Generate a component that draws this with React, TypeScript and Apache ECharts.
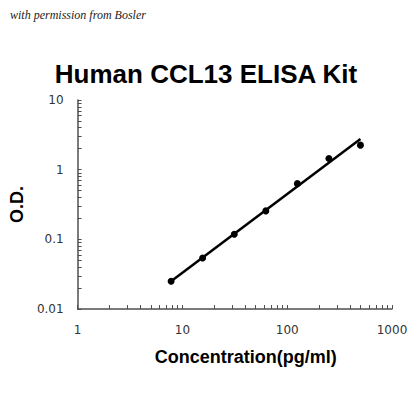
import { useEffect, useRef } from 'react';
import * as echarts from 'echarts';

// ─── Data ─────────────────────────────────────────────────────────────────────

const concentrations = [7.8, 15.6, 31.25, 62.5, 125, 250, 500];
const odValues = [0.025, 0.054, 0.118, 0.256, 0.63, 1.45, 2.25];

// end points of the fitted standard curve (log-log straight line)
const fitConcentrations = [7.8, 500];
const fitOdValues = [0.025, 2.75];

const xTickValues = [
  1, 2, 3, 4, 5, 6, 7, 8, 9,
  10, 20, 30, 40, 50, 60, 70, 80, 90,
  100, 200, 300, 400, 500, 600, 700, 800, 900, 1000,
];
const yTickValues = [
  0.01, 0.02, 0.03, 0.04, 0.05, 0.06, 0.07, 0.08, 0.09,
  0.1, 0.2, 0.3, 0.4, 0.5, 0.6, 0.7, 0.8, 0.9,
  1, 2, 3, 4, 5, 6, 7, 8, 9, 10,
];

// ─── Option ───────────────────────────────────────────────────────────────────

const AXIS_COLOR = '#505050';
const LABEL_STYLE = { color: '#333', fontSize: 12, fontFamily: 'DejaVu Sans' };

const fmt = (v: number) => String(Number(v.toPrecision(6)));

function buildOption(): echarts.EChartsOption {
  return {
    animation: false,
    backgroundColor: '#fff',
    title: [
      {
        text: 'Human CCL13 ELISA Kit',
        left: 206,
        textAlign: 'center',
        top: 61,
        padding: 0,
        textStyle: {
          fontFamily: 'Liberation Sans',
          fontWeight: 'bold',
          fontSize: 26,
          color: '#000',
        },
      },
      {
        text: 'with permission from Bosler',
        left: 10,
        top: 9,
        padding: 0,
        textStyle: {
          fontFamily: 'Liberation Serif',
          fontStyle: 'italic',
          fontWeight: 'normal',
          fontSize: 12,
          color: '#222',
        },
      },
    ],
    grid: { left: 65, top: 100, width: 327, height: 209, containLabel: false },
    xAxis: {
      type: 'log',
      logBase: 10,
      min: 1,
      max: 1000,
      name: 'Concentration(pg/ml)',
      nameLocation: 'middle',
      nameGap: 39,
      nameTextStyle: {
        fontFamily: 'Liberation Sans',
        fontWeight: 'bold',
        fontSize: 18,
        color: '#000',
        padding: [0, 0, 0, 22],
      },
      axisLine: { lineStyle: { color: AXIS_COLOR, width: 1.5 } },
      axisTick: {
        inside: true,
        length: 4,
        customValues: xTickValues,
        lineStyle: { color: AXIS_COLOR },
      },
      axisLabel: { ...LABEL_STYLE, margin: 15, formatter: fmt },
      splitLine: { show: false },
    },
    yAxis: {
      type: 'log',
      logBase: 10,
      min: 0.01,
      max: 10,
      name: 'O.D.',
      nameLocation: 'middle',
      nameGap: 31,
      nameRotate: 90,
      nameTextStyle: {
        fontFamily: 'Liberation Sans',
        fontWeight: 'bold',
        fontSize: 18,
        color: '#000',
      },
      axisLine: { show: true, lineStyle: { color: AXIS_COLOR, width: 1.5 } },
      axisTick: {
        show: true,
        inside: true,
        length: 4,
        customValues: yTickValues,
        lineStyle: { color: AXIS_COLOR },
      },
      axisLabel: { ...LABEL_STYLE, margin: 14, formatter: fmt },
      splitLine: { show: false },
    },
    series: [
      {
        name: 'Fit',
        type: 'line',
        data: fitConcentrations.map((c, i) => [c, fitOdValues[i]]),
        showSymbol: false,
        symbol: 'none',
        lineStyle: { color: '#000', width: 2.5 },
        z: 2,
      },
      {
        name: 'Standards',
        type: 'scatter',
        data: concentrations.map((c, i) => [c, odValues[i]]),
        symbol: 'circle',
        symbolSize: 7,
        itemStyle: { color: '#000', opacity: 1 },
        z: 3,
      },
    ],
  };
}

// ─── Component ────────────────────────────────────────────────────────────────

export default function App() {
  const containerRef = useRef<HTMLDivElement>(null);

  useEffect(() => {
    if (!containerRef.current) return;
    const chart = echarts.init(containerRef.current, null, { renderer: 'svg' });
    chart.setOption(buildOption());
    return () => chart.dispose();
  }, []);

  return (
    <div
      ref={containerRef}
      style={{ position: 'fixed', left: 0, top: 0, width: 420, height: 420, background: '#fff' }}
    />
  );
}
